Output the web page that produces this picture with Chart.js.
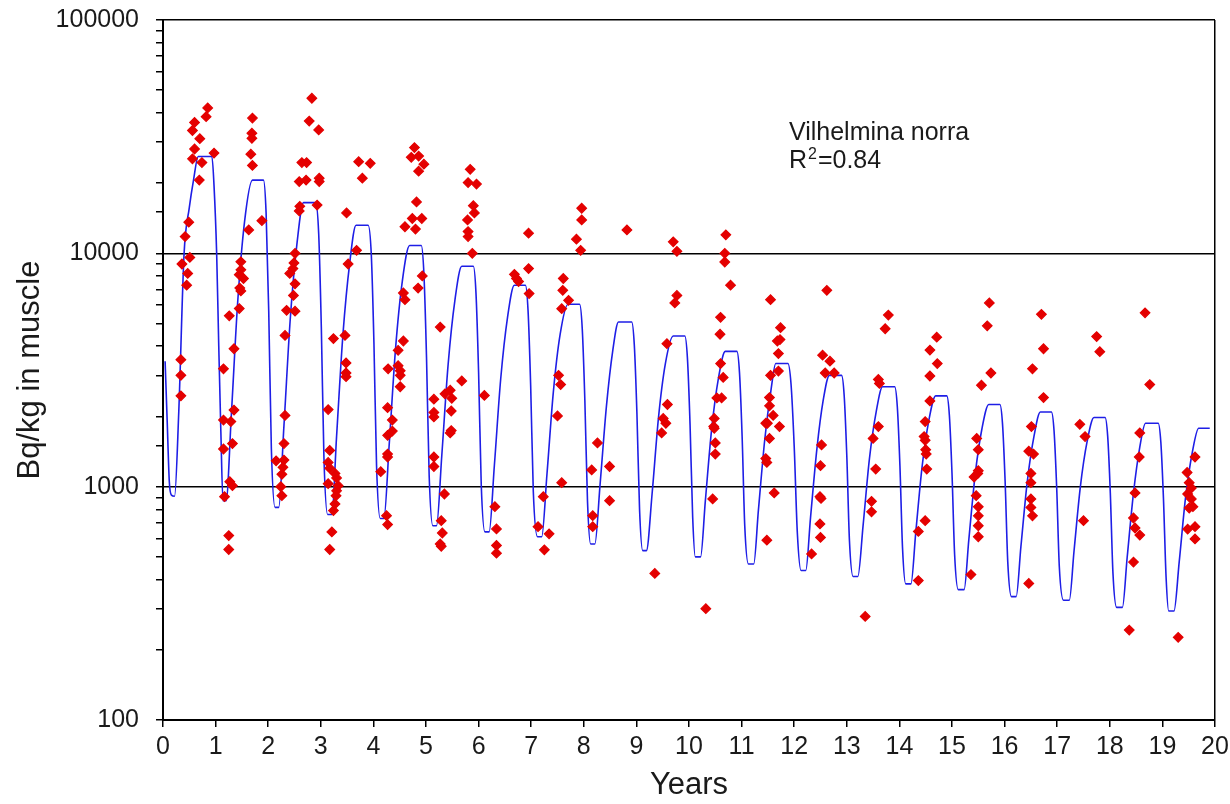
<!DOCTYPE html>
<html>
<head>
<meta charset="utf-8">
<title>Vilhelmina norra</title>
<script src="https://cdn.jsdelivr.net/npm/chart.js@4.4.1/dist/chart.umd.min.js"></script>
<style>
  html, body { margin: 0; padding: 0; background: #fff; }
  #wrap { width: 1230px; height: 804px; }
</style>
</head>
<body>
<div id="wrap"><canvas id="chart" width="1230" height="804"></canvas></div>
<script>
// measured samples (years, Bq/kg), one line per season
const sampleYears = [
  0.85,0.82,0.60,0.56,0.70,0.60,0.97,0.56,0.74,0.69,0.49,0.42,0.51,0.36,0.47,0.45,0.34,0.34,0.34,
  1.70,1.69,1.69,1.67,1.70,1.88,1.63,1.48,1.48,1.45,1.53,1.46,1.48,1.45,1.26,1.35,1.15,1.35,1.15,1.29,1.32,1.15,1.27,1.32,1.17,1.25,1.25,
  2.83,2.78,2.96,2.64,2.73,2.59,2.72,2.97,2.97,2.60,2.59,2.93,2.51,2.49,2.47,2.41,2.51,2.48,2.35,2.51,2.32,2.32,2.30,2.15,2.30,2.28,2.26,2.24,2.26,
  3.49,3.72,3.94,3.79,3.68,3.52,3.24,3.46,3.48,3.48,3.48,3.14,3.17,3.14,3.17,3.27,3.30,3.14,3.33,3.30,3.29,3.27,3.24,3.21,3.17,
  4.78,4.72,4.86,4.96,4.86,4.82,4.74,4.92,4.60,4.80,4.93,4.85,4.57,4.60,4.57,4.47,4.28,4.47,4.51,4.51,4.51,4.27,4.36,4.36,4.27,4.27,4.27,4.14,4.25,4.27,
  5.27,5.84,5.80,5.96,5.90,5.92,5.79,5.80,5.80,5.88,5.15,5.15,5.15,5.46,5.36,5.49,5.68,5.48,5.48,5.46,5.15,5.15,5.35,5.29,5.31,5.27,5.29,
  6.95,6.68,6.72,6.76,6.95,6.96,6.11,6.31,6.34,6.34,6.34,
  7.52,7.56,7.50,7.58,7.23,7.13,7.34,7.25,7.61,7.60,7.71,7.58,7.96,7.96,7.86,7.94,
  8.15,8.26,8.49,8.49,8.17,8.17,8.82,
  9.35,9.58,9.59,9.51,9.56,9.48,9.70,9.77,9.77,9.73,
  10.32,10.70,10.68,10.68,10.79,10.60,10.59,10.60,10.65,10.53,10.62,10.48,10.47,10.48,10.50,10.50,10.45,
  11.55,11.74,11.73,11.68,11.70,11.70,11.55,11.53,11.53,11.60,11.46,11.49,11.72,11.53,11.46,11.48,11.62,11.48,
  12.62,12.54,12.68,12.59,12.76,12.52,12.50,12.49,12.51,12.49,12.50,12.33,
  13.35,13.79,13.73,13.60,13.62,13.60,13.50,13.55,13.47,13.47,
  14.71,14.58,14.72,14.58,14.58,14.49,14.47,14.49,14.50,14.51,14.52,14.49,14.36,14.36,
  15.71,15.67,15.74,15.56,15.47,15.50,15.50,15.49,15.42,15.46,15.50,15.50,15.50,15.50,15.36,
  16.70,16.74,16.53,16.74,16.51,16.46,16.55,16.50,16.50,16.50,16.50,16.53,16.46,
  17.75,17.81,17.43,17.53,17.50,
  18.67,18.76,18.57,18.56,18.48,18.45,18.48,18.57,18.45,18.37,
  19.62,19.47,19.51,19.55,19.48,19.55,19.58,19.51,19.62,19.48,19.62,19.30
];
const sampleBq = [
  42000,38500,36400,33600,31000,28000,26900,25400,24500,20600,13600,11800,9600,9000,8200,7300,3500,3000,2450,
  38000,32700,31100,26600,23800,13800,12600,9200,8500,8100,7800,7100,6900,5800,5400,3900,3200,2130,1930,1900,1530,1450,1050,1010,906,617,538,
  46200,36900,33800,24500,24500,20300,20600,21000,20300,15900,15200,16100,10000,9100,8600,8200,7400,6600,5700,5650,4450,2020,1530,1290,1300,1210,1130,1000,915,
  14900,24700,24300,21000,10300,9000,4310,4450,3390,3070,2960,2140,1430,1270,1200,1140,1090,1030,1010,960,915,843,790,640,538,
  28400,25800,26100,24100,22500,16600,14100,14100,13000,12700,8000,7100,6760,6330,4210,3840,3200,3300,3140,3000,2680,2180,1930,1730,1660,1380,1340,1160,751,688,
  4830,22900,20100,19800,16000,14900,13900,12400,11800,10000,2370,2080,1990,2590,2500,2390,2840,2110,1740,1700,1340,1220,930,715,633,568,555,
  12200,8130,7800,7570,8600,6720,2460,821,659,560,519,
  3000,2740,2010,1040,906,674,628,536,7800,6940,6290,5790,15600,13900,11500,10300,
  1180,1540,1220,871,751,674,12600,
  425,4100,2250,1960,1870,1700,11200,10200,6600,6130,
  300,12000,10000,9180,7300,5320,4500,3370,2940,2400,2400,1960,1810,1780,1540,1380,886,
  6330,4800,4270,4210,3720,3130,3000,2410,2220,2020,1870,1870,1810,1610,1320,1270,940,590,
  6940,3660,3450,3070,3070,1510,1230,906,890,692,606,515,
  278,5440,4750,2880,2770,1810,1610,1190,865,780,
  4370,3850,3370,2980,2330,1900,1640,1580,1440,1380,1190,715,643,396,
  6130,4890,3070,2720,1610,1440,1170,1140,1100,915,820,750,680,610,420,
  5480,3900,3200,2410,1810,1420,1380,1140,1040,886,815,750,385,
  4400,3790,1850,1640,715,
  5560,2740,1700,1340,940,734,665,620,475,243,
  1340,1150,1040,987,930,886,821,810,674,658,597,226
];

// model curve
const modelYears = [
  0.04,0.08,0.12,0.16,0.22,0.30,0.40,0.50,0.58,0.67,0.93,0.97,1.02,1.06,1.10,
  1.14,1.20,1.30,1.42,1.55,1.70,1.91,1.96,2.01,2.06,
  2.13,2.20,2.30,2.42,2.55,2.67,2.90,2.96,3.01,3.06,
  3.13,3.21,3.30,3.42,3.55,3.67,3.90,3.96,4.01,4.06,
  4.13,4.20,4.30,4.42,4.55,4.69,4.91,4.96,5.01,5.06,
  5.13,5.20,5.30,5.42,5.55,5.68,5.90,5.95,6.00,6.05,
  6.12,6.20,6.30,6.42,6.55,6.68,6.89,6.94,6.99,7.04,
  7.12,7.20,7.30,7.42,7.55,7.70,7.92,7.97,8.02,8.07,
  8.13,8.21,8.31,8.43,8.55,8.66,8.91,8.96,9.01,9.06,
  9.12,9.19,9.30,9.42,9.55,9.70,9.92,9.97,10.02,10.07,
  10.12,10.22,10.31,10.43,10.56,10.69,10.91,10.96,11.01,11.06,
  11.13,11.23,11.32,11.44,11.56,11.65,11.88,11.94,12.00,12.06,
  12.13,12.22,12.31,12.43,12.55,12.67,12.90,12.95,13.00,13.05,
  13.12,13.21,13.31,13.43,13.56,13.68,13.91,13.96,14.01,14.06,
  14.12,14.22,14.31,14.43,14.56,14.69,14.90,14.95,15.00,15.05,
  15.12,15.23,15.32,15.44,15.57,15.70,15.91,15.96,16.01,16.06,
  16.13,16.22,16.31,16.43,16.56,16.68,16.89,16.94,16.99,17.04,
  17.12,17.23,17.32,17.44,17.57,17.70,17.91,17.96,18.01,18.06,
  18.13,18.24,18.33,18.45,18.57,18.68,18.92,18.97,19.02,19.07,
  19.12,19.22,19.32,19.44,19.57,19.69,19.90
];
const modelBq = [
  3450,1900,1050,920,910,2100,9900,15700,20600,26000,26000,19500,10000,4010,1720,
  870,870,2045,6190,13650,20600,20600,14920,5660,1457,
  815,815,1835,5260,11160,16500,16500,12130,4820,1323,
  760,760,1643,4463,9110,13200,13200,9880,4146,1228,
  730,730,1510,3878,7606,10800,10800,8190,3573,1119,
  680,680,1357,3325,6307,8800,8800,6771,3084,1025,
  640,640,1235,2894,5320,7300,7300,5694,2704,953,
  610,610,1133,2529,4490,6050,6050,4775,2348,869,
  568,568,1026,2209,3821,5080,5080,4055,2060,799,
  532,532,942,1977,3357,4420,4420,3555,1848,740,
  500,500,865,1759,2919,3800,3800,3081,1641,679,
  466,466,795,1589,2605,3370,3370,2747,1488,631,
  437,437,735,1442,2335,3000,3000,2460,1356,589,
  412,412,683,1315,2101,2680,2680,2206,1231,543,
  383,383,632,1210,1925,2450,2450,2024,1141,511,
  362,362,593,1124,1775,2250,2250,1862,1054,476,
  338,338,553,1046,1650,2090,2090,1736,994,455,
  326,326,530,998,1566,1980,1980,1642,936,426,
  304,304,497,938,1477,1870,1870,1554,891,409,
  293,293,477,897,1408,1780,1780
];

const xLabels = [0,1,2,3,4,5,6,7,8,9,10,11,12,13,14,15,16,17,18,19,20];
const yLabels = [100, 1000, 10000, 100000];
const yGridLines = [1000, 10000, 100000];
const siteName = 'Vilhelmina norra';
const rSquared = '0.84';

const FONT = '"Liberation Sans", Arial, sans-serif';
const INK = '#1a1a1a';

const samples = sampleYears.map((x, i) => ({ x, y: sampleBq[i] }));
const model = modelYears.map((x, i) => ({ x, y: modelBq[i] }));

// site name and R² in the upper right
const notePlugin = {
  id: 'note',
  afterDatasetsDraw(chart) {
    const { ctx, scales } = chart;
    const left = scales.x.getPixelForValue(11.9);
    const base = scales.y.getPixelForValue(30600);
    ctx.save();
    ctx.fillStyle = INK;
    ctx.textBaseline = 'alphabetic';
    ctx.textAlign = 'left';
    ctx.font = '25px ' + FONT;
    ctx.fillText(siteName, left, base);
    const base2 = base + 28;
    ctx.fillText('R', left, base2);
    let w = ctx.measureText('R').width + 1;
    ctx.font = '16px ' + FONT;
    ctx.fillText('2', left + w, base2 - 9);
    w += ctx.measureText('2').width + 1;
    ctx.font = '25px ' + FONT;
    ctx.fillText('=' + rSquared, left + w, base2);
    ctx.restore();
  }
};

new Chart(document.getElementById('chart'), {
  type: 'scatter',
  data: {
    datasets: [
      {
        label: 'measured',
        data: samples,
        order: 0,
        pointStyle: 'rectRot',
        pointRadius: 4.8,
        pointBorderWidth: 1.2,
        backgroundColor: '#e40000',
        borderColor: '#e40000'
      },
      {
        label: 'model',
        data: model,
        order: 1,
        showLine: true,
        pointRadius: 0,
        borderColor: 'rgb(30,30,230)',
        borderWidth: 1.6,
        cubicInterpolationMode: 'monotone'
      }
    ]
  },
  options: {
    responsive: false,
    animation: false,
    devicePixelRatio: 1,
    layout: { padding: { top: 20, right: 15, left: 0, bottom: 0 } },
    plugins: { legend: { display: false }, tooltip: { enabled: false } },
    scales: {
      x: {
        type: 'linear',
        min: 0,
        max: 20,
        afterFit: s => { s.height = 84; s.paddingLeft = 0; s.paddingRight = 0; },
        border: { color: '#000', width: 2 },
        grid: {
          color: c => (c.tick && c.tick.value === 20) ? '#000' : 'rgba(0,0,0,0)',
          lineWidth: 1.5,
          tickColor: '#000',
          tickLength: 7
        },
        ticks: {
          stepSize: 1,
          autoSkip: false,
          maxRotation: 0,
          padding: 5,
          color: INK,
          font: { family: FONT, size: 25 },
          callback: v => xLabels.includes(v) ? String(v) : ''
        },
        title: {
          display: true,
          text: 'Years',
          color: INK,
          font: { family: FONT, size: 31 },
          padding: { top: 0, bottom: 0 }
        }
      },
      y: {
        type: 'logarithmic',
        min: 100,
        max: 100000,
        afterFit: s => { s.width = 163; s.paddingTop = 0; s.paddingBottom = 0; },
        border: { color: '#000', width: 2 },
        grid: {
          color: c => (c.tick && yGridLines.includes(c.tick.value)) ? '#000' : 'rgba(0,0,0,0)',
          lineWidth: 1.5,
          tickColor: '#000',
          tickLength: 7
        },
        ticks: {
          autoSkip: false,
          padding: 17,
          color: INK,
          font: { family: FONT, size: 25 },
          callback: v => yLabels.includes(v) ? String(v) : ''
        },
        title: {
          display: true,
          text: 'Bq/kg in muscle',
          color: INK,
          font: { family: FONT, size: 31 },
          padding: { top: 12, bottom: 0 }
        }
      }
    }
  },
  plugins: [notePlugin]
});
</script>
</body>
</html>
